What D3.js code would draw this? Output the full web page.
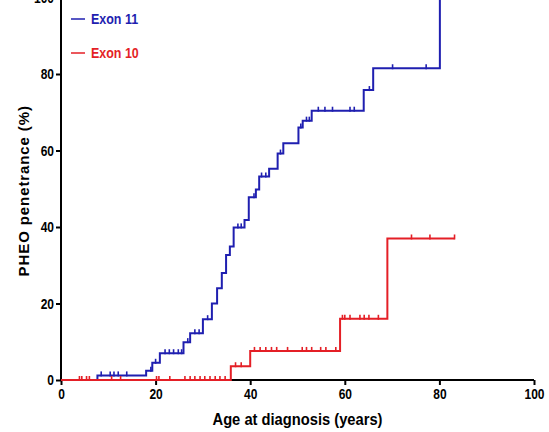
<!DOCTYPE html>
<html>
<head>
<meta charset="utf-8">
<script src="https://cdn.jsdelivr.net/npm/d3@7"></script>
<style>
  html, body { margin: 0; padding: 0; background: #fff; }
  svg { display: block; }
  text { font-family: Arial, "Liberation Sans", sans-serif; font-weight: bold; }
</style>
</head>
<body>
<svg id="chart" width="549" height="432"></svg>
<script>
// ---- Data ----
const xTicks = [0, 20, 40, 60, 80, 100];
const yTicks = [0, 20, 40, 60, 80, 100];

const exon11Times = [0, 7.7, 18.0, 19.3, 20.9, 25.9, 27.3, 30.0, 31.9, 33.0, 34.0, 34.9, 35.7, 36.5, 38.8, 39.7, 41.2, 41.9, 44.0, 45.8, 47.0, 50.2, 51.1, 53.0, 64.0, 66.0, 80.1];
const exon11Pen   = [0, 1.2, 2.4, 4.5, 7.0, 9.9, 12.2, 15.9, 20.0, 24.0, 28.0, 32.7, 34.9, 39.9, 41.8, 47.8, 49.8, 53.2, 55.2, 59.2, 61.9, 66.0, 67.8, 70.4, 75.8, 81.5, 100];
const exon11End = 82;
const exon11Censored = [8.5, 10.4, 11.2, 12.1, 13.9, 19.0, 20.0, 22.0, 22.9, 23.8, 24.8, 25.5, 26.8, 28.3, 29.2, 31.0, 37.4, 38.1, 40.8, 42.4, 43.3, 46.4, 50.7, 51.9, 52.5, 54.4, 55.8, 57.4, 61.1, 62.0, 65.2, 70.1, 77.2];

const exon10Times = [0, 35.9, 40.0, 59.0, 69.0];
const exon10Pen   = [0, 3.6, 7.6, 16.0, 37.0];
const exon10End = 83.2;
const exon10Censored = [3.9, 4.4, 5.4, 6.0, 10.7, 12.6, 20.2, 20.7, 23.0, 26.2, 27.3, 28.3, 29.4, 30.4, 31.5, 32.6, 33.6, 34.7, 36.9, 38.1, 40.9, 42.1, 43.3, 44.5, 45.6, 47.9, 51.0, 51.9, 53.0, 54.9, 56.0, 58.1, 59.5, 60.0, 61.1, 63.2, 64.1, 65.1, 67.1, 74.1, 78.0, 83.2];

const seriesNames = ["Exon 11", "Exon 10"];
const seriesColors = ["#1f1fb0", "#e41f26"];

// ---- Layout ----
const svg = d3.select("#chart");
const x = d3.scaleLinear().domain([0, 100]).range([61, 534]);
const y = d3.scaleLinear().domain([0, 100]).range([380, -2.5]);
const sx = 0.8; // horizontal condensing of text, as in the reference

function levelAt(times, pens, t) {
  let v = pens[0];
  for (let i = 0; i < times.length; i++) { if (times[i] <= t) v = pens[i]; }
  return v;
}

const series = [
  { times: exon11Times, pens: exon11Pen, end: exon11End, cens: exon11Censored, color: seriesColors[0] },
  { times: exon10Times, pens: exon10Pen, end: exon10End, cens: exon10Censored, color: seriesColors[1] }
];

// Axes
const xAxis = d3.axisBottom(x).tickValues(xTicks).tickSize(5).tickPadding(3);
const yAxis = d3.axisLeft(y).tickValues(yTicks).tickSize(5).tickPadding(2);

const gx = svg.append("g").attr("transform", `translate(0,${y(0)})`).call(xAxis);
const gy = svg.append("g").attr("transform", `translate(${x(0)},0)`).call(yAxis);
[gx, gy].forEach(g => {
  g.select(".domain").attr("stroke", "#000").attr("stroke-width", 2);
  g.selectAll(".tick line").attr("stroke", "#000").attr("stroke-width", 2);
  g.selectAll(".tick text").attr("fill", "#000").style("font-size", "15px").style("font-weight", "bold")
    .attr("transform", `scale(${sx},1)`);
});
gy.selectAll(".tick text").attr("x", -7 / sx);
gx.select(".domain").attr("d", `M${x(0)},0H${x(100)}`);
gy.select(".domain").attr("d", `M0,${y(0)}V${y(100)}`);

// Curves
const line = d3.line().x(d => x(d[0])).y(d => y(d[1])).curve(d3.curveStepAfter);
series.forEach(s => {
  const pts = s.times.map((t, i) => [t, s.pens[i]]);
  pts.push([s.end, s.pens[s.pens.length - 1]]);
  svg.append("path").datum(pts)
    .attr("d", line)
    .attr("fill", "none")
    .attr("stroke", s.color)
    .attr("stroke-width", 2);
  svg.append("g").selectAll("line").data(s.cens).join("line")
    .attr("x1", d => x(d)).attr("x2", d => x(d))
    .attr("y1", d => y(levelAt(s.times, s.pens, d)) - 4)
    .attr("y2", d => y(levelAt(s.times, s.pens, d)) + 1)
    .attr("stroke", s.color)
    .attr("stroke-width", 1.6);
});

// Legend
const legendY = [19, 53];
seriesNames.forEach((name, i) => {
  svg.append("line")
    .attr("x1", 71).attr("x2", 85)
    .attr("y1", legendY[i]).attr("y2", legendY[i])
    .attr("stroke", seriesColors[i]).attr("stroke-width", 1.5);
  svg.append("text")
    .attr("transform", `translate(91,${legendY[i]}) scale(0.86,1)`)
    .attr("dy", "0.36em")
    .attr("fill", seriesColors[i])
    .style("font-size", "14.5px")
    .text(name);
});

// Axis titles
svg.append("text")
  .attr("transform", `translate(${(x(0) + x(100)) / 2},425) scale(0.92,1)`)
  .attr("text-anchor", "middle")
  .style("font-size", "16px")
  .text("Age at diagnosis (years)");

svg.append("text")
  .attr("transform", `translate(29,${y(50) + 2}) rotate(-90)`)
  .attr("text-anchor", "middle")
  .style("font-size", "15px")
  .style("letter-spacing", "0.9px")
  .text("PHEO penetrance (%)");
</script>
</body>
</html>
